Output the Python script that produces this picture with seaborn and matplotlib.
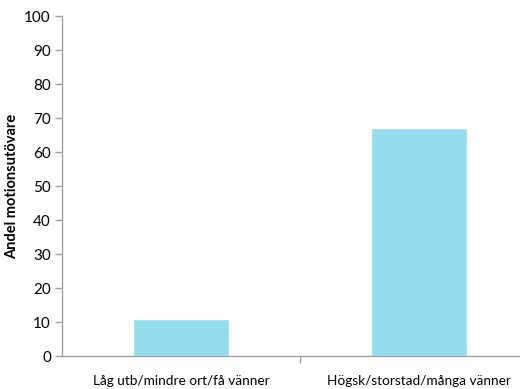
import matplotlib
matplotlib.use("Agg")
import matplotlib.pyplot as plt
import seaborn as sns
import pandas as pd

categories = ["Låg utb/mindre ort/få vänner", "Högsk/storstad/många vänner"]
values = [11, 67]
yticks = [0, 10, 20, 30, 40, 50, 60, 70, 80, 90, 100]

sns.set_theme(style="white")
plt.rcParams["font.family"] = ["Lato", "DejaVu Sans"]

df = pd.DataFrame({"grupp": categories, "andel": values})

fig = plt.figure(figsize=(5.2, 3.89), dpi=100)
ax = fig.add_axes([62 / 520, 1 - 356 / 389, 476 / 520, 340 / 389])

sns.barplot(data=df, x="grupp", y="andel", color="#93DDED", saturation=1,
            width=0.4, ax=ax)

ax.set_xlim(-0.5, 1.5)
ax.set_ylim(0, 100)
ax.set_yticks(yticks)
ax.set_xlabel("")
ax.set_ylabel("Andel motionsutövare", fontsize=10.5, fontweight="bold", color="black", labelpad=4)

for side in ["top", "right"]:
    ax.spines[side].set_visible(False)
for side in ["left", "bottom"]:
    ax.spines[side].set_color("#A0A0A0")
    ax.spines[side].set_linewidth(1.0)

ax.tick_params(axis="y", which="major", length=5, width=1, color="#A0A0A0",
               labelsize=11, labelcolor="black", pad=3, left=True)
ax.tick_params(axis="x", which="major", length=0, labelsize=9.8, labelcolor="black", pad=14)
ax.set_xticks([0.5], minor=True)
ax.tick_params(axis="x", which="minor", length=5, width=1, color="#A0A0A0", bottom=True)

fig.savefig("out.png", dpi=100)
